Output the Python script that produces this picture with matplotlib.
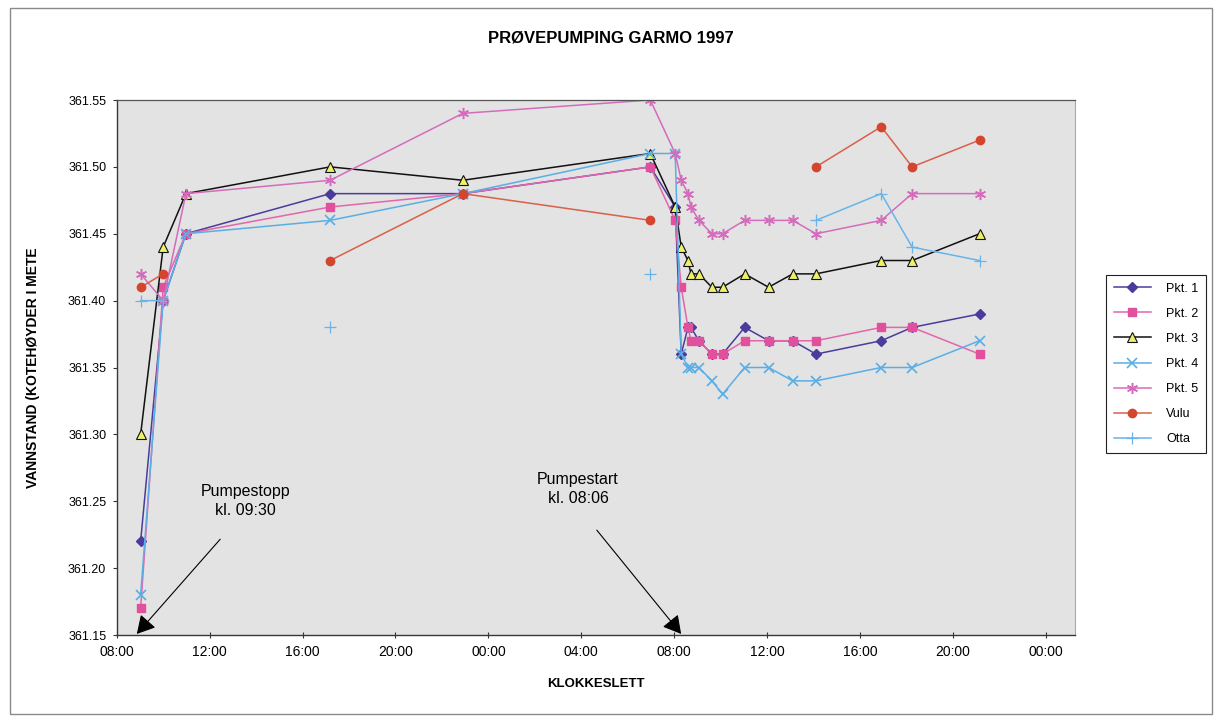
import numpy as np
import matplotlib
matplotlib.use("Agg")
import matplotlib.pyplot as plt
from matplotlib.patches import Rectangle
from matplotlib.ticker import FixedLocator, FuncFormatter

plt.rcParams['font.family'] = ['Liberation Sans', 'DejaVu Sans']

# Målingstidspunkt, timer regnet fra midnatt første døgn
tid = [9.03, 10.0, 10.98, 17.19, 22.9, 30.97, 32.04, 32.3, 32.59, 32.72,
       33.06, 33.62, 34.08, 35.03, 36.06, 37.1, 38.1, 40.91, 42.24, 45.14]

# Vannstand (kote), None = ingen måling
pkt1 = [361.22, 361.40, 361.45, 361.48, 361.48, 361.50, 361.47, 361.36, 361.38, 361.38,
        361.37, 361.36, 361.36, 361.38, 361.37, 361.37, 361.36, 361.37, 361.38, 361.39]
pkt2 = [361.17, 361.41, 361.45, 361.47, 361.48, 361.50, 361.46, 361.41, 361.38, 361.37,
        361.37, 361.36, 361.36, 361.37, 361.37, 361.37, 361.37, 361.38, 361.38, 361.36]
pkt3 = [361.30, 361.44, 361.48, 361.50, 361.49, 361.51, 361.47, 361.44, 361.43, 361.42,
        361.42, 361.41, 361.41, 361.42, 361.41, 361.42, 361.42, 361.43, 361.43, 361.45]
pkt4 = [361.18, 361.40, 361.45, 361.46, 361.48, 361.51, 361.51, 361.36, 361.35, 361.35,
        361.35, 361.34, 361.33, 361.35, 361.35, 361.34, 361.34, 361.35, 361.35, 361.37]
pkt5 = [361.42, 361.40, 361.48, 361.49, 361.54, 361.55, 361.51, 361.49, 361.48, 361.47,
        361.46, 361.45, 361.45, 361.46, 361.46, 361.46, 361.45, 361.46, 361.48, 361.48]
vulu = [361.41, 361.42, None, 361.43, 361.48, 361.46, None, None, None, None,
        None, None, None, None, None, None, 361.50, 361.53, 361.50, 361.52]
otta = [361.40, 361.40, None, 361.38, None, 361.42, None, None, None, None,
        None, None, None, None, None, None, 361.46, 361.48, 361.44, 361.43]

serier = [
    ("Pkt. 1", pkt1, dict(color='#4a3c9c', marker='D', ms=5, mfc='#4a3c9c', mec='#4a3c9c')),
    ("Pkt. 2", pkt2, dict(color='#e466aa', marker='s', ms=5.5, mfc='#e0509c', mec='#e0509c')),
    ("Pkt. 3", pkt3, dict(color='#111111', marker='^', ms=6.5, mfc='#eef06a', mec='#111111', mew=0.8)),
    ("Pkt. 4", pkt4, dict(color='#5aaee6', marker='x', ms=7, mew=1.2)),
    ("Pkt. 5", pkt5, dict(color='#d46cbc', marker=(6, 2, 0), ms=8, mew=1.1)),
    ("Vulu", vulu, dict(color='#d8604a', marker='o', ms=6, mfc='#d4452e', mec='#d4452e')),
    ("Otta", otta, dict(color='#68b4ea', marker='+', ms=8, mew=0.9)),
]

fig = plt.figure(figsize=(12.15, 7.16), dpi=100)
ax = fig.add_axes([116.7 / 1215, 1 - 635 / 716, (1075 - 116.7) / 1215, 535 / 716])
ax.set_facecolor('#e3e3e3')

for navn, verdier, stil in serier:
    y = np.array([np.nan if v is None else v for v in verdier], dtype=float)
    ax.plot(tid, y, lw=1.1, label=navn, **stil)

ax.set_xlim(8, 49.25)
ax.set_ylim(361.15, 361.55)
ax.xaxis.set_major_locator(FixedLocator(range(8, 49, 4)))
ax.xaxis.set_major_formatter(FuncFormatter(lambda h, p: f"{int(round(h)) % 24:02d}:00"))
ax.yaxis.set_major_locator(FixedLocator(np.linspace(361.15, 361.55, 9)))
ax.yaxis.set_major_formatter(FuncFormatter(lambda v, p: f"{v:.2f}"))
ax.tick_params(axis='x', direction='inout', length=5, width=0.8, color='#333333',
               labelsize=10, pad=5)
ax.tick_params(axis='y', direction='out', length=3, width=0.8, color='#333333',
               labelsize=9, pad=4.5)

for s in ['left', 'bottom']:
    ax.spines[s].set_color('#2f3f2f')
    ax.spines[s].set_linewidth(1.0)
ax.spines['top'].set_color('#555555')
ax.spines['top'].set_linestyle((0, (2, 1)))
ax.spines['top'].set_linewidth(0.9)
ax.spines['right'].set_color('#aaaaaa')
ax.spines['right'].set_linestyle((0, (1, 1)))
ax.spines['right'].set_linewidth(0.8)

ax.set_xlabel("KLOKKESLETT", fontsize=9.5, fontweight='bold')
ax.xaxis.set_label_coords(0.5, -0.08)
ax.set_ylabel("VANNSTAND (KOTEHØYDER I METE", fontsize=10, fontweight='bold')
ax.yaxis.set_label_coords(-0.08, 0.5)

fig.text(0.503, 1 - 38 / 716, "PRØVEPUMPING GARMO 1997", ha='center', va='center',
         fontsize=12, fontweight='bold')

# Kommentarer med piler
pil = dict(arrowstyle='-|>,head_length=0.5,head_width=0.28', mutation_scale=22,
           color='black', lw=0.8, shrinkA=0, shrinkB=0)
ax.text(0.134, 0.25, "Pumpestopp\nkl. 09:30", transform=ax.transAxes,
        ha='center', va='center', fontsize=11.5, linespacing=1.3)
ax.annotate("", xy=(0.021, 0.002), xytext=(0.108, 0.179),
            xycoords='axes fraction', textcoords='axes fraction', arrowprops=pil)
ax.text(0.4815, 0.273, "Pumpestart\nkl. 08:06", transform=ax.transAxes,
        ha='center', va='center', fontsize=11.5, linespacing=1.3)
ax.annotate("", xy=(0.589, 0.002), xytext=(0.501, 0.196),
            xycoords='axes fraction', textcoords='axes fraction', arrowprops=pil)

leg = ax.legend(loc='upper left', bbox_to_anchor=(1106 / 1215, 1 - 275 / 716),
                bbox_transform=fig.transFigure, borderaxespad=0, fontsize=9,
                frameon=True, fancybox=False, framealpha=1, edgecolor='#222222',
                handlelength=3.0, handletextpad=1.2, borderpad=0.6, labelspacing=1.05)
leg.get_frame().set_linewidth(0.8)

fig.patches.append(Rectangle((10 / 1215, 0.003), (1212 - 10) / 1215, 0.9858,
                             transform=fig.transFigure, fill=False,
                             edgecolor='#8a8a8a', lw=1.0))

fig.savefig("out.png", dpi=100)
